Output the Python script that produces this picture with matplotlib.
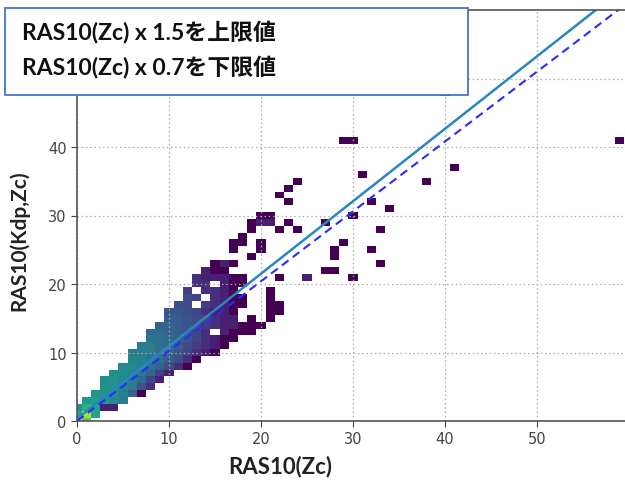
import numpy as np
import matplotlib
matplotlib.use("Agg")
import matplotlib.pyplot as plt
from matplotlib.colors import LogNorm
from matplotlib.patches import Rectangle

# ---- 2D histogram data (bin centres are integer values) ----
# dense band: for each y-bin, first x-bin and the counts that follow
row_y = list(range(0, 24))
row_start = [0, 0, 0, 1, 2, 3, 3, 4, 5, 6, 6, 7, 8, 8, 9, 10, 10, 11, 12, 12, 13, 13, 14, 15]
row_counts = [
    [2500, 300],
    [100, 900, 100],
    [50, 150, 100, 2, 2],
    [70, 80, 60, 40, 25],
    [60, 60, 45, 30, 12, 1],
    [50, 55, 40, 25, 8, 3],
    [45, 50, 40, 25, 15, 5, 2],
    [45, 45, 35, 25, 12, 4, 2],
    [40, 40, 30, 20, 12, 6, 3, 1],
    [35, 35, 25, 18, 10, 6, 3, 1],
    [25, 30, 25, 18, 12, 8, 5, 3, 2, 1],
    [25, 25, 18, 14, 10, 6, 4, 3, 2, 1],
    [20, 20, 15, 10, 8, 5, 3, 2, 1, 1],
    [15, 15, 12, 10, 7, 5, 3, 0, 2, 1, 1, 1],
    [12, 12, 10, 8, 6, 4, 3, 2, 2, 1, 1, 1],
    [10, 10, 8, 6, 5, 3, 2, 2, 0, 1, 0, 1],
    [8, 8, 6, 5, 3, 2, 2, 1, 0, 0, 0, 1, 1],
    [7, 6, 0, 4, 3, 2, 1, 1, 0, 0, 1, 1],
    [6, 5, 0, 3, 2, 1, 1, 0, 0, 1],
    [4, 0, 3, 3, 2, 1, 0, 0, 0, 1],
    [3, 3, 0, 2, 1, 1],
    [3, 2, 2, 2, 1, 1, 0, 0, 0, 1, 0, 0, 1],
    [2, 1, 1],
    [1, 2, 1],
]
# scattered single cells
sparse_x = [19, 17, 20, 17, 18, 20, 18, 19, 22, 24, 19, 20, 21, 23, 20, 21, 23, 22, 23, 24,
            29, 30, 59, 41, 38, 31, 32, 34, 27, 30, 33, 29, 28, 28, 32, 33, 27, 28, 30, 25, 40]
sparse_y = [24, 25, 25, 26, 26, 26, 27, 28, 28, 28, 29, 29, 29, 29, 30, 30, 32, 33, 34, 35,
            41, 41, 41, 37, 35, 36, 32, 31, 29, 30, 28, 26, 24, 25, 25, 23, 22, 22, 21, 21, 48]
sparse_counts = [1, 1, 1, 1, 1, 1, 1, 1, 1, 1, 1, 2, 2, 1, 1, 1, 1, 1, 1, 1,
                 1, 1, 1, 1, 1, 1, 1, 1, 1, 1, 1, 1, 1, 1, 1, 1, 1, 1, 1, 1, 1]

# regression line and reference line
fit_slope = 1.058
fit_intercept = 0.34
ref_slope = 1.02

x_ticks = [0, 10, 20, 30, 40, 50]
y_ticks = [0, 10, 20, 30, 40, 50]
y_tick_labels = ["0", "10", "20", "30", "40", ""]   # 50 is hidden under the note box
x_label = "RAS10(Zc)"
y_label = "RAS10(Kdp,Zc)"
note_lines = ["RAS10(Zc) x 1.5を上限値", "RAS10(Zc) x 0.7を下限値"]

# ---- build grid ----
n = 61
H = np.zeros((n, n))
for y, s, cs in zip(row_y, row_start, row_counts):
    for k, c in enumerate(cs):
        H[y, s + k] += c
for x, y, c in zip(sparse_x, sparse_y, sparse_counts):
    H[y, x] += c
Hm = np.ma.masked_where(H <= 0, H)
edges = np.arange(-0.5, n + 0.5, 1.0)

W, Hpx = 625, 485
fig = plt.figure(figsize=(W / 100, Hpx / 100), dpi=100)
ax = fig.add_axes([77 / W, 1 - 422 / Hpx, 552 / W, 411 / Hpx])

ax.pcolormesh(edges, edges, Hm, cmap="viridis", norm=LogNorm(vmin=1, vmax=2500))

xs = np.array([0, 60])
ax.plot(xs, fit_slope * xs + fit_intercept, color="#2a86bf", lw=1.8)
ax.plot(xs, ref_slope * xs, color="#2a2aff", lw=1.5, ls=(0, (4, 2.5)))

ax.set_xlim(0, 60)
ax.set_ylim(0, 60)
ax.set_xticks(x_ticks)
ax.set_yticks(y_ticks)
ax.set_yticklabels(y_tick_labels)
ax.grid(True, linestyle=(0, (1.2, 2.2)), color="#aaaaaa", linewidth=0.9)
ax.tick_params(labelsize=10.5, colors="#444444", length=4)
for sp in ax.spines.values():
    sp.set_color("#555555")
    sp.set_linewidth(1.2)

lab_font = ["Lato", "DejaVu Sans"]
fig.text(280 / W, 1 - 467 / Hpx, x_label, family=lab_font, fontweight="bold", fontsize=16,
         color="#222222", ha="center", va="center")
fig.text(19 / W, 1 - 241 / Hpx, y_label, family=lab_font, fontweight="bold", fontsize=15,
         color="#222222", ha="center", va="center", rotation=90)

# annotation box (figure pixels)
box = Rectangle((5 / W, 1 - 96 / Hpx), 463 / W, 87 / Hpx, transform=fig.transFigure,
                facecolor="white", edgecolor="#4a74c9", linewidth=1.3, zorder=10)
fig.patches.append(box)
for i, t in enumerate(note_lines):
    fig.text(22 / W, 1 - (33 + 35 * i) / Hpx, t, family=["Lato", "Noto Sans CJK JP"],
             fontweight="bold", fontsize=16.5, color="#111111", va="center", ha="left", zorder=11)

fig.savefig("out.png", dpi=100)
